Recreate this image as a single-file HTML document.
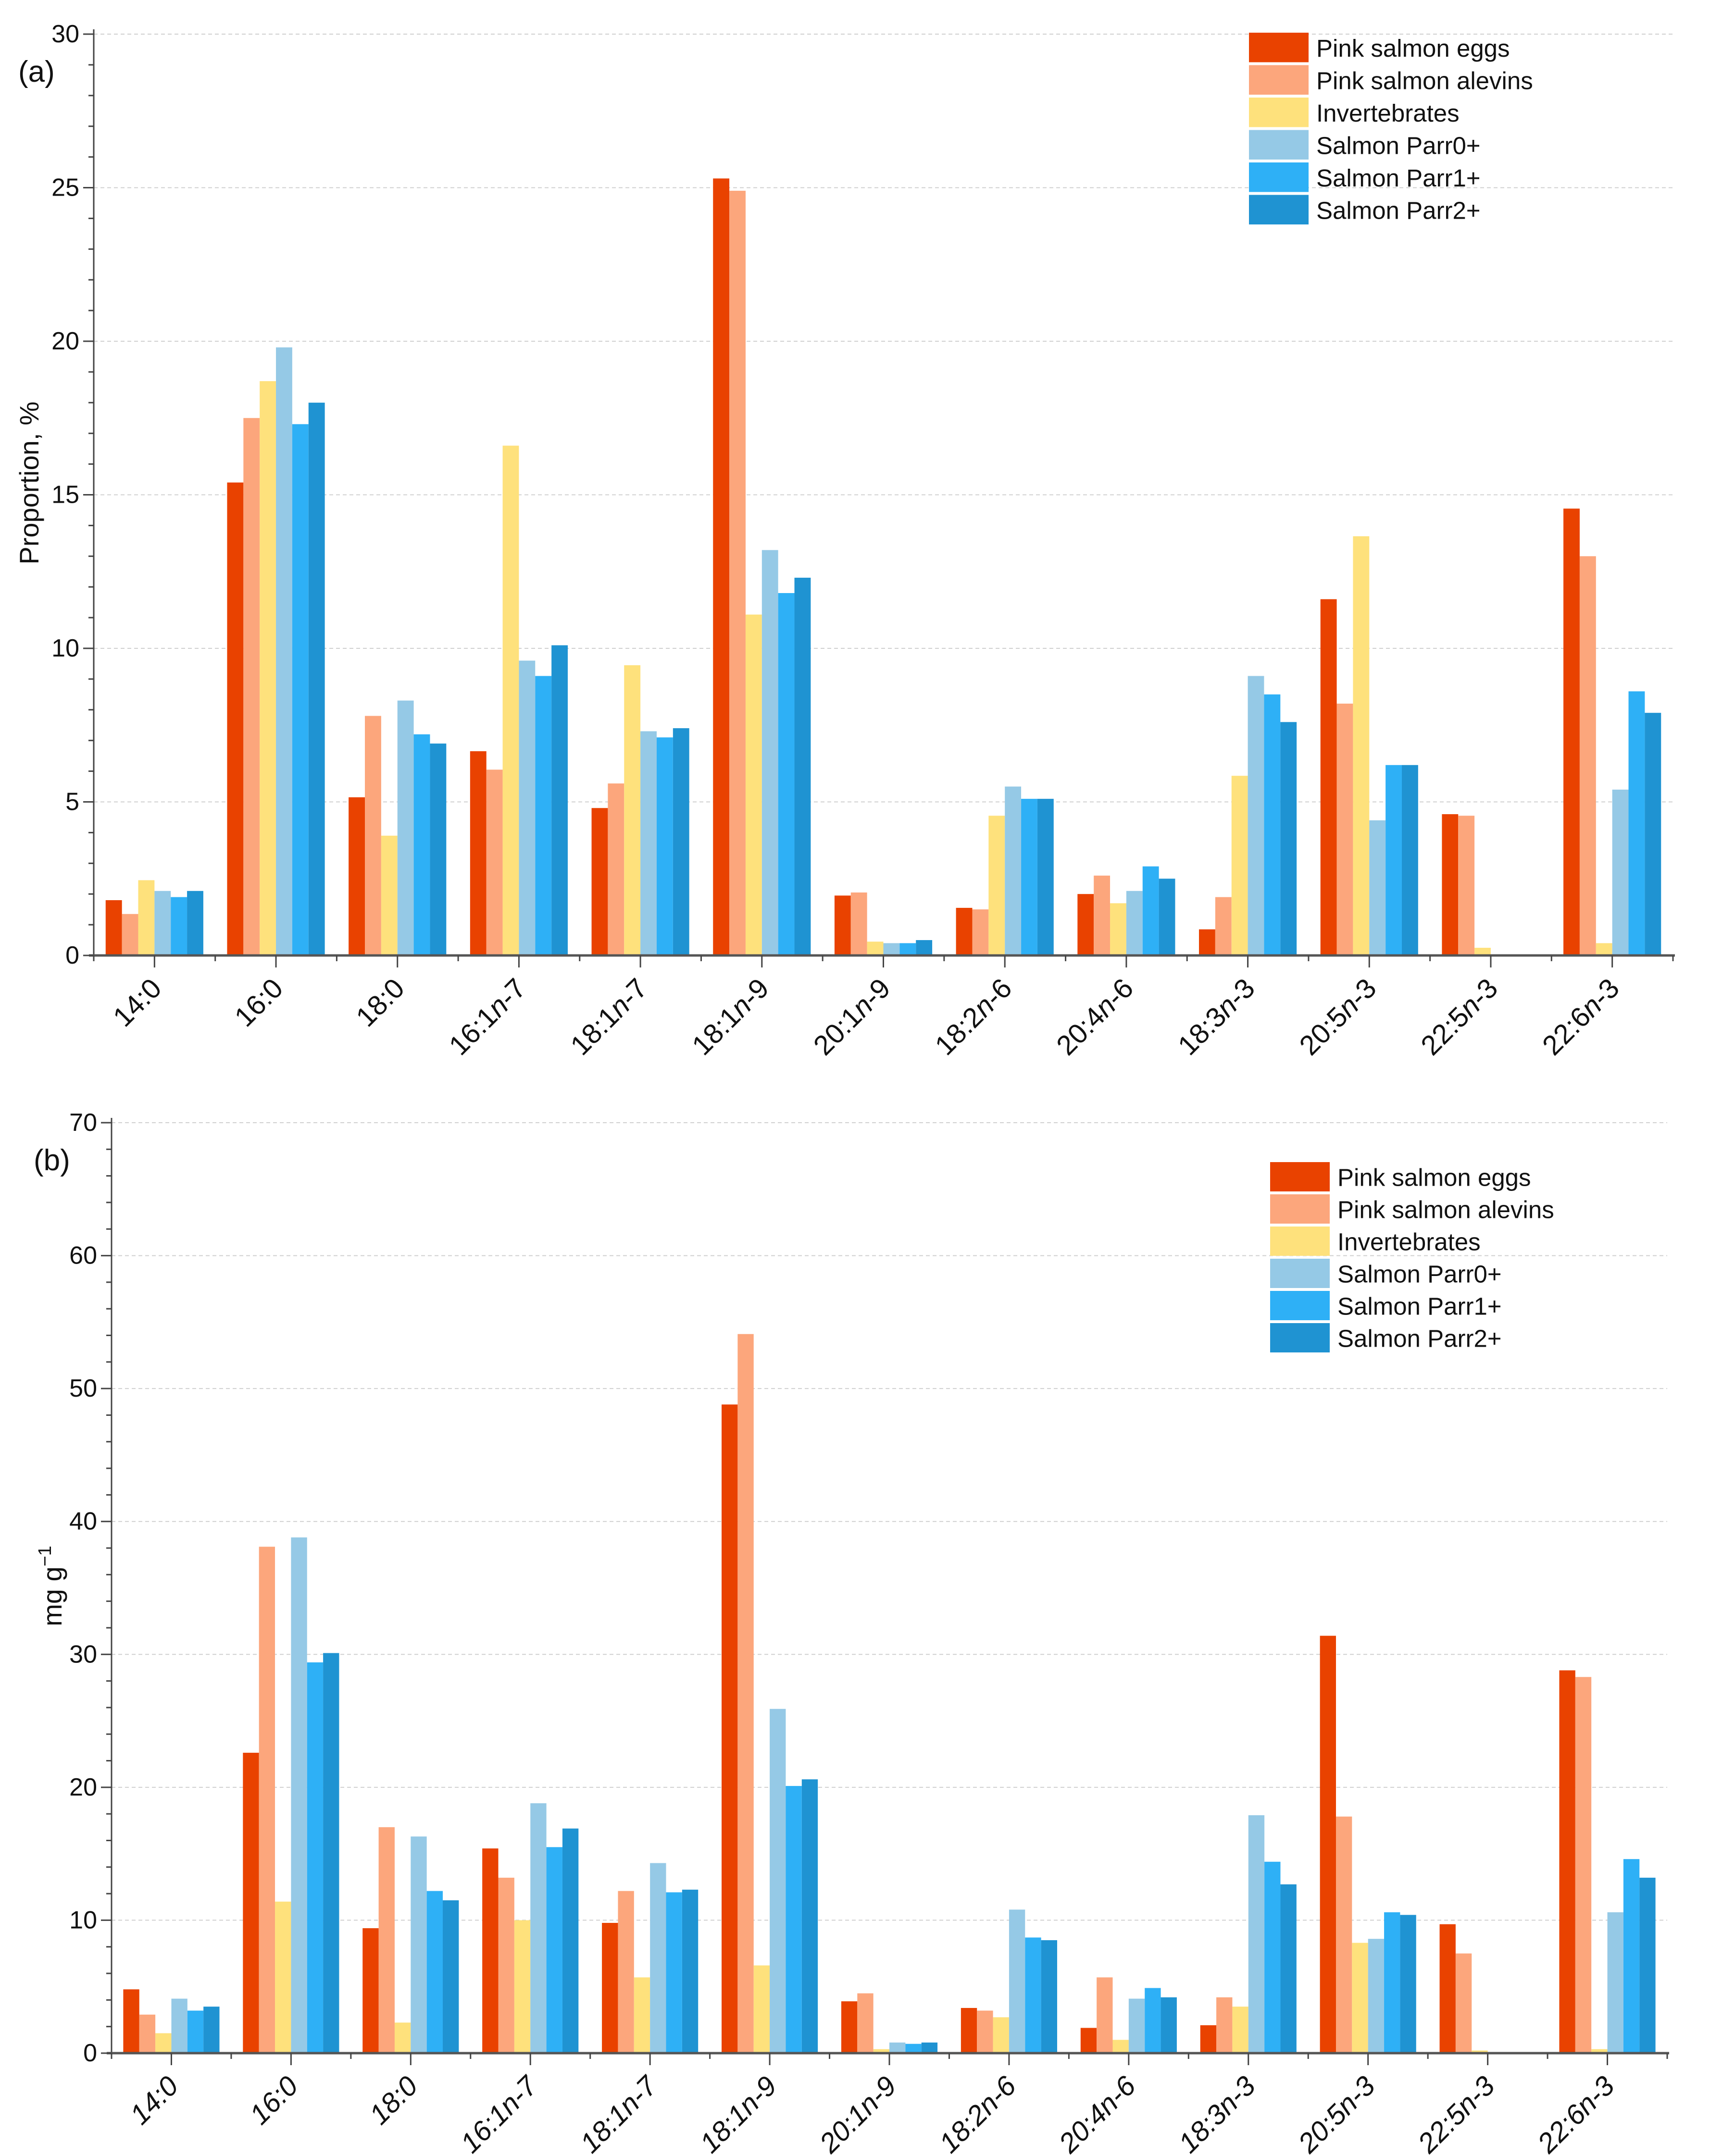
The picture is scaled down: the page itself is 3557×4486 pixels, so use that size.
<!DOCTYPE html>
<html><head><meta charset="utf-8"><style>
html,body{margin:0;padding:0;background:#fff;}
svg{display:block;font-family:"Liberation Sans",sans-serif;}
</style></head><body>
<svg id="chart" width="3557" height="4486" viewBox="0 0 3557 4486" xmlns="http://www.w3.org/2000/svg"></svg>
<script>
const categories = ["14:0","16:0","18:0","16:1n-7","18:1n-7","18:1n-9","20:1n-9","18:2n-6","20:4n-6","18:3n-3","20:5n-3","22:5n-3","22:6n-3"];
const seriesNames = ["Pink salmon eggs","Pink salmon alevins","Invertebrates","Salmon Parr0+","Salmon Parr1+","Salmon Parr2+"];
const colors = ["#E94200","#FCA67C","#FEE17C","#95C9E6","#2EB0F6","#1F93D2"];
const propEggs    = [1.8,15.4,5.15,6.65,4.8,25.3,1.95,1.55,2.0,0.85,11.6,4.6,14.55];
const propAlevins = [1.35,17.5,7.8,6.05,5.6,24.9,2.05,1.5,2.6,1.9,8.2,4.55,13.0];
const propInvert  = [2.45,18.7,3.9,16.6,9.45,11.1,0.45,4.55,1.7,5.85,13.65,0.25,0.4];
const propParr0   = [2.1,19.8,8.3,9.6,7.3,13.2,0.4,5.5,2.1,9.1,4.4,0,5.4];
const propParr1   = [1.9,17.3,7.2,9.1,7.1,11.8,0.4,5.1,2.9,8.5,6.2,0,8.6];
const propParr2   = [2.1,18.0,6.9,10.1,7.4,12.3,0.5,5.1,2.5,7.6,6.2,0,7.9];
const mgEggs    = [4.8,22.6,9.4,15.4,9.8,48.8,3.9,3.4,1.9,2.1,31.4,9.7,28.8];
const mgAlevins = [2.9,38.1,17.0,13.2,12.2,54.1,4.5,3.2,5.7,4.2,17.8,7.5,28.3];
const mgInvert  = [1.5,11.4,2.3,10.0,5.7,6.6,0.3,2.7,1.0,3.5,8.3,0.2,0.3];
const mgParr0   = [4.1,38.8,16.3,18.8,14.3,25.9,0.8,10.8,4.1,17.9,8.6,0,10.6];
const mgParr1   = [3.2,29.4,12.2,15.5,12.1,20.1,0.7,8.7,4.9,14.4,10.6,0,14.6];
const mgParr2   = [3.5,30.1,11.5,16.9,12.3,20.6,0.8,8.5,4.2,12.7,10.4,0,13.2];
const ticksA = [0,5,10,15,20,25,30];
const ticksB = [0,10,20,30,40,50,60,70];

const NS="http://www.w3.org/2000/svg";
const svg=document.getElementById('chart');
function mk(tag,attrs,parent){const e=document.createElementNS(NS,tag);for(const k in attrs)e.setAttribute(k,attrs[k]);(parent||svg).appendChild(e);return e;}

function panel(p){
  const g=mk('g',{});
  
  
  const yS=v=>p.y0-(v-p.ymin)/(p.ymax-p.ymin)*(p.y0-p.y1);
  const step=(p.x1-p.x0)/categories.length;
  const xS=i=>p.x0+step*(i+0.5);
  const bw=step*0.134;
  p.ticks.forEach(t=>{ if(t>0){const l=mk('line',{x1:p.x0,x2:p.x1,y1:yS(t),y2:yS(t),stroke:'#d0d0d0','stroke-width':2,'stroke-dasharray':'8,6'},g);
    }});
  p.series.forEach((arr,s)=>{arr.forEach((v,i)=>{
    if(v<=0)return;
    const x=xS(i)-3*bw+s*bw;
    const r=mk('rect',{x:x,y:yS(v),width:bw,height:yS(0)-yS(v),fill:colors[s]},g);
    
    
  });});
  const ya=mk('line',{x1:p.x0,x2:p.x0,y1:p.y1-10,y2:p.y0+10,stroke:'#444','stroke-width':3},g);
  
  const xa=mk('line',{x1:p.x0-10,x2:p.x1+4,y1:p.y0,y2:p.y0,stroke:'#555','stroke-width':5},g);
  
  for(let v=p.ymin;v<=p.ymax+1e-9;v+=p.minor){
    const major=Math.abs(v/p.major-Math.round(v/p.major))<1e-6;
    mk('line',{x1:p.x0-(major?22:11),x2:p.x0,y1:yS(v),y2:yS(v),stroke:'#444','stroke-width':3},g);
  }
  p.ticks.forEach(t=>{const tx=mk('text',{x:p.x0-30,y:yS(t)+17,'text-anchor':'end','font-size':52,fill:'#111'},g);
    tx.textContent=t;});
  for(let i=0;i<=categories.length;i++){mk('line',{x1:p.x0+step*i,x2:p.x0+step*i,y1:p.y0,y2:p.y0+12,stroke:'#444','stroke-width':3},g);}
  categories.forEach((c,i)=>{
    mk('line',{x1:xS(i),x2:xS(i),y1:p.y0,y2:p.y0+25,stroke:'#444','stroke-width':3},g);
    const m=c.match(/^(\d+:\d+)(n)?(.*)$/);
    const tx=mk('text',{transform:`translate(${xS(i)+18},${p.y0+72}) rotate(-45)`,'text-anchor':'end','font-size':58,fill:'#111','font-style':p.italicLabels?'italic':'normal'},g);
    
    const a=mk('tspan',{},tx);a.textContent=m[1];
    if(m[2]){const b=mk('tspan',{'font-style':'italic'},tx);b.textContent='n';const d=mk('tspan',{},tx);d.textContent=m[3];}
  });
  const pl=mk('text',{x:p.lab[0],y:p.lab[1],'font-size':62,fill:'#111'},g);
  pl.textContent=p.label;
  const yt=mk('text',{transform:`translate(${p.yt[0]},${p.yt[1]}) rotate(-90)`,'text-anchor':'middle','font-size':56,fill:'#111'},g);
  
  if(p.id==='a'){yt.textContent='Proportion, %';}
  else{const t1=mk('tspan',{},yt);t1.textContent='mg g';const t2=mk('tspan',{dy:-22,'font-size':38},yt);t2.textContent='−1';}
  const lg=mk('g',{},g);
  seriesNames.forEach((n,s)=>{
    const y=p.leg[1]+s*p.leg[2];
    const r=mk('rect',{x:p.leg[0],y:y,width:124,height:p.leg[2]-6,fill:colors[s]},lg);
    
    const t=mk('text',{x:p.leg[0]+140,y:y+p.leg[2]/2+16,'font-size':51,fill:'#111'},lg);
    t.textContent=n;
  });
}
panel({id:'a',x0:195,x1:3480,y0:1988,y1:71,ymin:0,ymax:30,major:5,minor:1,ticks:ticksA,italicLabels:false,
  series:[propEggs,propAlevins,propInvert,propParr0,propParr1,propParr2],label:'(a)',lab:[38,170],yt:[80,1005],leg:[2598,68,67.5]});
panel({id:'b',x0:232,x1:3468,y0:4272,y1:2336,ymin:0,ymax:70,major:10,minor:2,ticks:ticksB,italicLabels:true,
  series:[mgEggs,mgAlevins,mgInvert,mgParr0,mgParr1,mgParr2],label:'(b)',lab:[70,2435],yt:[128,3300],leg:[2642,2418,67]});
</script>
</body></html>
